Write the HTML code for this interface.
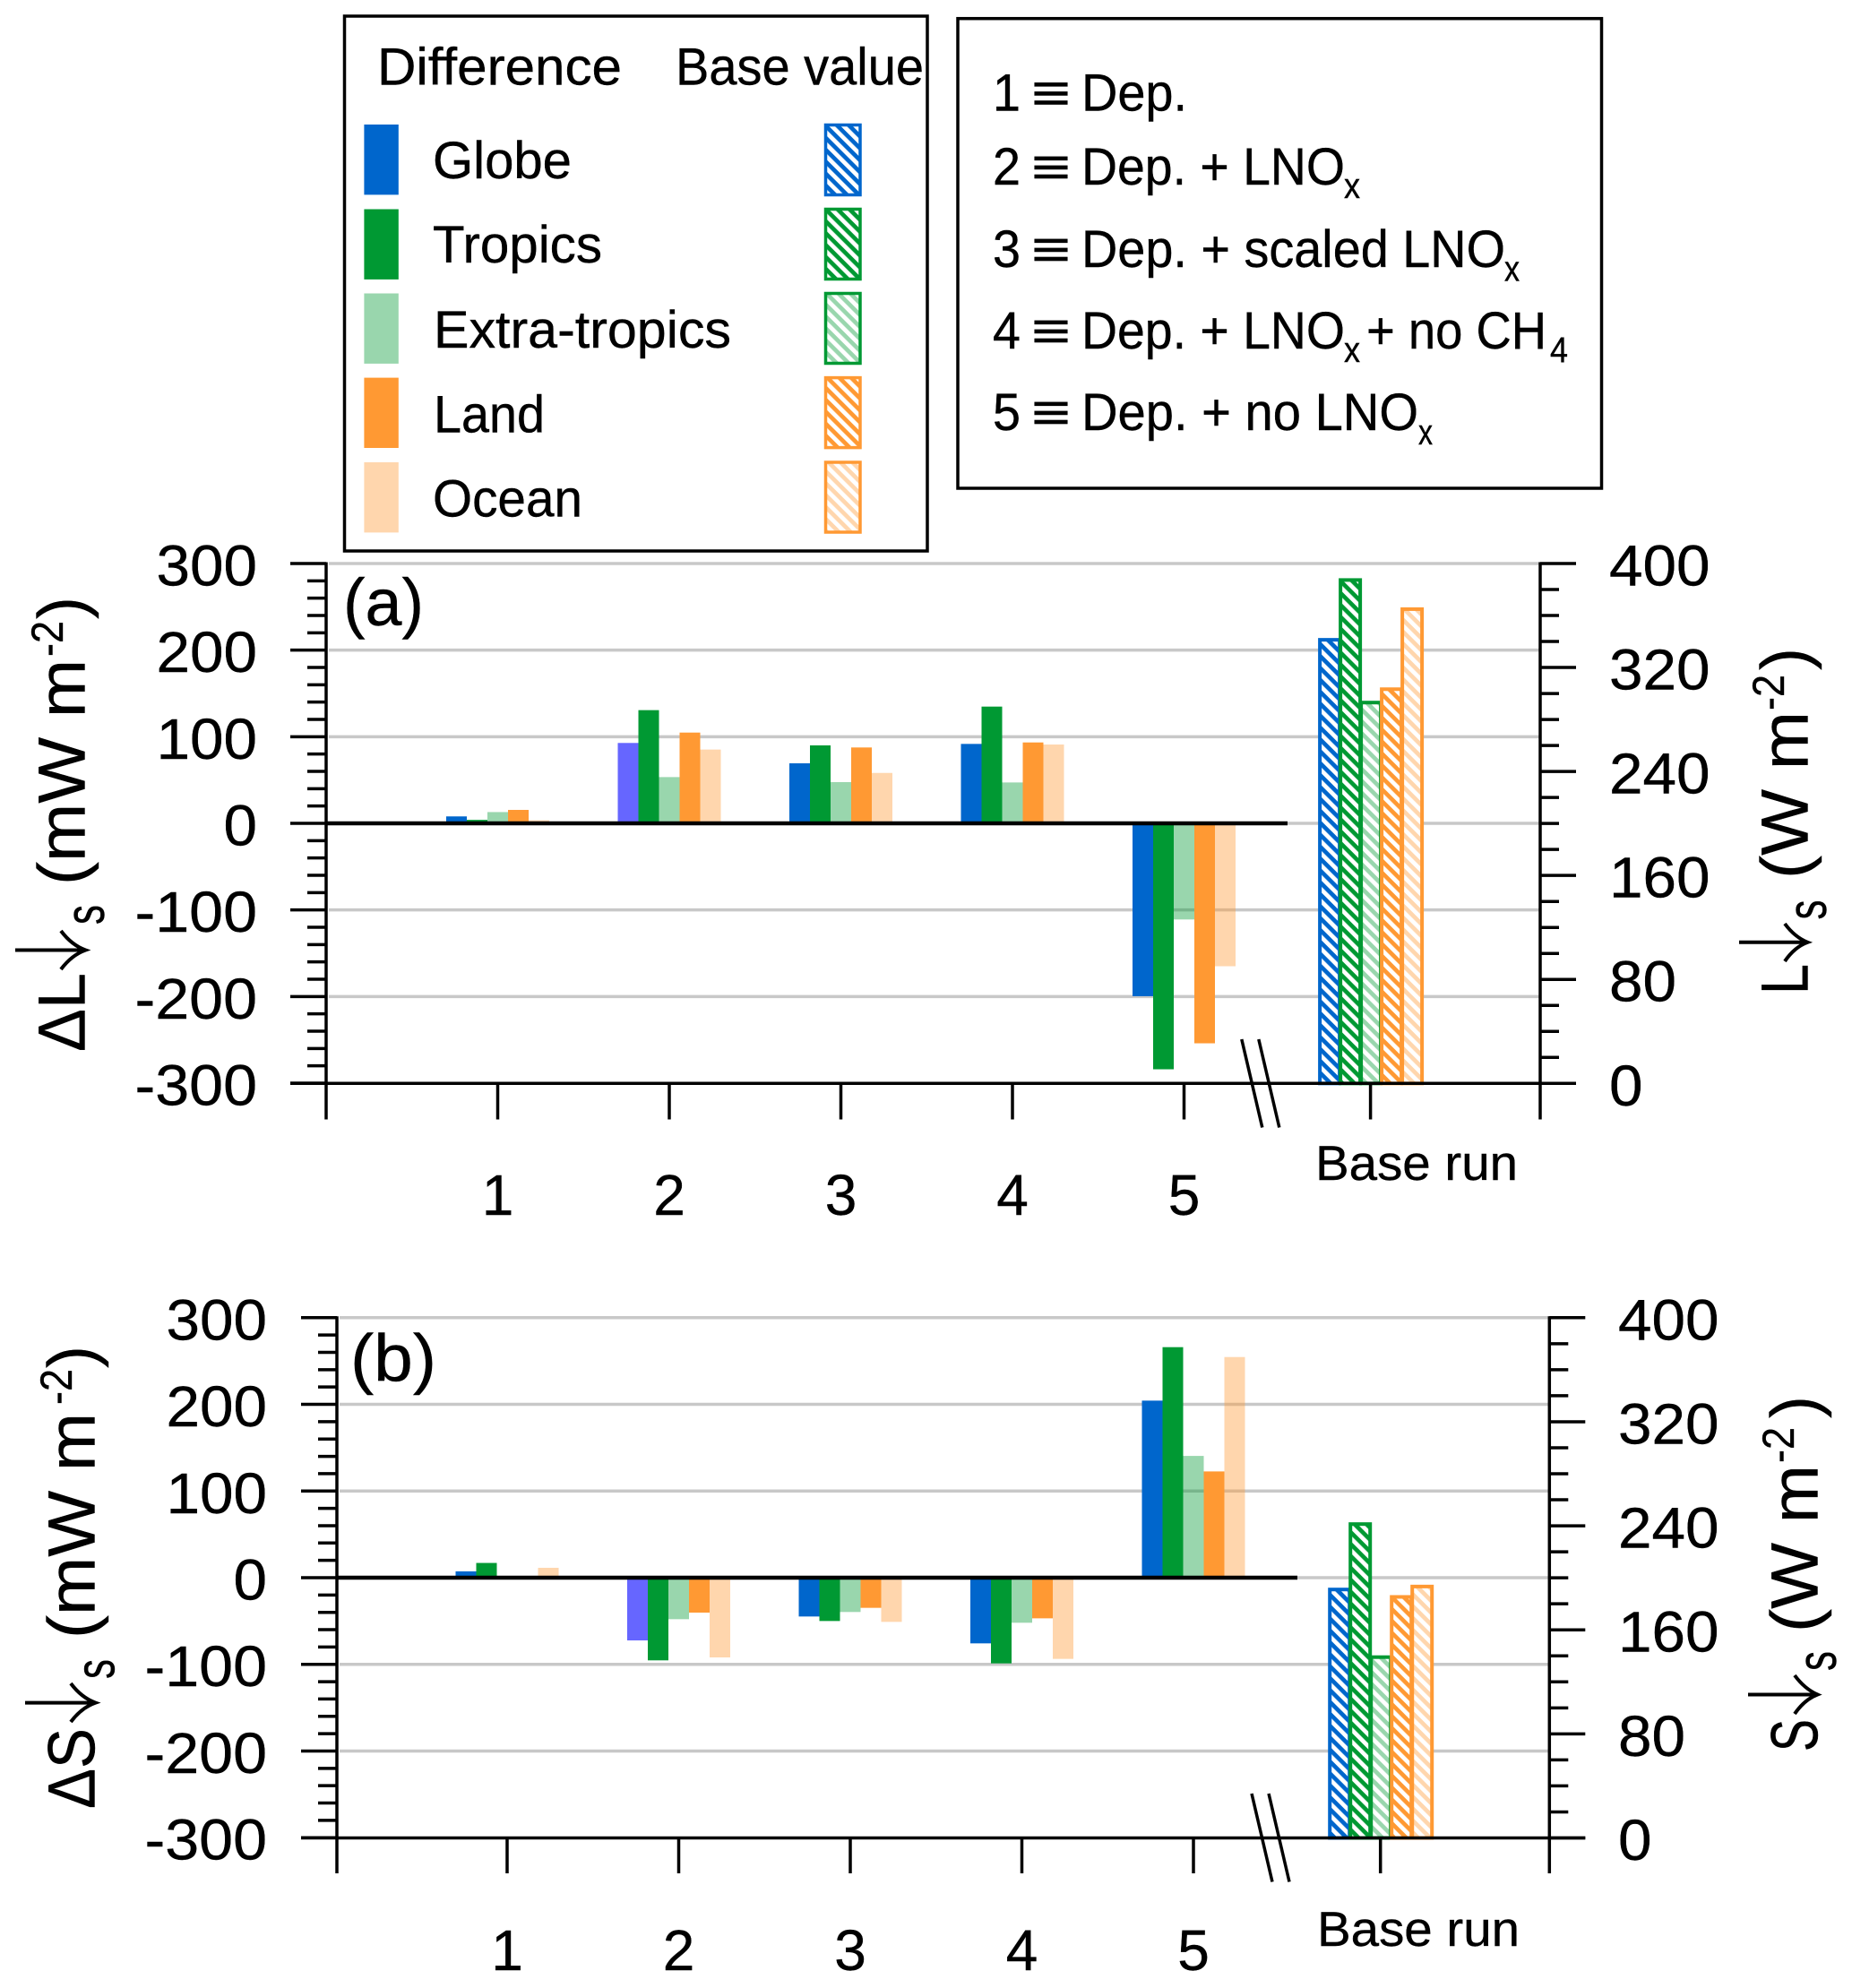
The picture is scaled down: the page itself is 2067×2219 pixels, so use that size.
<!DOCTYPE html>
<html lang="en">
<head>
<meta charset="utf-8">
<title>Surface radiative flux differences</title>
<style>
html,body{margin:0;padding:0;background:#fff;}
svg{display:block;}
text{font-family:"Liberation Sans",sans-serif;fill:#000;stroke:#000;stroke-width:0.4;}
</style>
</head>
<body>
<svg id="chart" xmlns="http://www.w3.org/2000/svg" width="2067" height="2219" viewBox="0 0 2067 2219">
<defs>
<pattern id="hatch-globe" patternUnits="userSpaceOnUse" width="9.4" height="10" patternTransform="rotate(-45)"><rect width="9.4" height="10" fill="#0066cc"/><rect width="4.7" height="10" fill="#fff"/></pattern>
<pattern id="hatch-tropics" patternUnits="userSpaceOnUse" width="9.4" height="10" patternTransform="rotate(-45)"><rect width="9.4" height="10" fill="#009933"/><rect width="4.7" height="10" fill="#fff"/></pattern>
<pattern id="hatch-extra" patternUnits="userSpaceOnUse" width="9.4" height="10" patternTransform="rotate(-45)"><rect width="9.4" height="10" fill="#99d6ad"/><rect width="4.7" height="10" fill="#fff"/></pattern>
<pattern id="hatch-land" patternUnits="userSpaceOnUse" width="9.4" height="10" patternTransform="rotate(-45)"><rect width="9.4" height="10" fill="#ff9933"/><rect width="4.7" height="10" fill="#fff"/></pattern>
<pattern id="hatch-ocean" patternUnits="userSpaceOnUse" width="9.4" height="10" patternTransform="rotate(-45)"><rect width="9.4" height="10" fill="#ffd6ad"/><rect width="4.7" height="10" fill="#fff"/></pattern>
</defs>
<rect width="2067" height="2219" fill="#fff"/>

<g id="legend">
<rect x="384.5" y="18" width="650.5" height="597" fill="#fff" stroke="#000" stroke-width="3.5"/>
<text x="421" y="94.7" font-size="58" textLength="273" lengthAdjust="spacingAndGlyphs">Difference</text>
<text x="754" y="94.7" font-size="58" textLength="277" lengthAdjust="spacingAndGlyphs">Base value</text>

<rect x="406.4" y="139" width="38.4" height="78.4" fill="#0066cc"/>
<rect x="406.4" y="233.5" width="38.4" height="78.4" fill="#009933"/>
<rect x="406.4" y="327.5" width="38.4" height="78.4" fill="#99d6ad"/>
<rect x="406.4" y="421.6" width="38.4" height="78.4" fill="#ff9933"/>
<rect x="406.4" y="516" width="38.4" height="78.4" fill="#ffd6ad"/>

<text x="483" y="199" font-size="58" textLength="155" lengthAdjust="spacingAndGlyphs">Globe</text>
<text x="483" y="293" font-size="58" textLength="189" lengthAdjust="spacingAndGlyphs">Tropics</text>
<text x="484" y="387.8" font-size="58" textLength="332" lengthAdjust="spacingAndGlyphs">Extra-tropics</text>
<text x="484" y="482.4" font-size="58" textLength="124" lengthAdjust="spacingAndGlyphs">Land</text>
<text x="483" y="576.7" font-size="58" textLength="167" lengthAdjust="spacingAndGlyphs">Ocean</text>

<rect x="921.5" y="139.5" width="38.5" height="78" fill="url(#hatch-globe)" stroke="#0066cc" stroke-width="3.5"/>
<rect x="921.5" y="233.5" width="38.5" height="78" fill="url(#hatch-tropics)" stroke="#009933" stroke-width="3.5"/>
<rect x="921.5" y="327.5" width="38.5" height="78" fill="url(#hatch-extra)" stroke="#009933" stroke-width="3.5"/>
<rect x="921.5" y="421.6" width="38.5" height="78" fill="url(#hatch-land)" stroke="#ff9933" stroke-width="3.5"/>
<rect x="921.5" y="516" width="38.5" height="78" fill="url(#hatch-ocean)" stroke="#ff9933" stroke-width="3.5"/>
</g>

<g id="key">
<rect x="1069" y="20.7" width="718.5" height="524.3" fill="#fff" stroke="#000" stroke-width="3.5"/>

<g>
<text x="1108" y="123.6" font-size="58" textLength="31" lengthAdjust="spacingAndGlyphs">1</text>
<text x="1151" y="123.6" font-size="58" textLength="44" lengthAdjust="spacingAndGlyphs">≡</text>
<text x="1207" y="123.6" font-size="58" textLength="118" lengthAdjust="spacingAndGlyphs">Dep.</text>
</g>
<g>
<text x="1108" y="206" font-size="58" textLength="31" lengthAdjust="spacingAndGlyphs">2</text>
<text x="1151" y="206" font-size="58" textLength="44" lengthAdjust="spacingAndGlyphs">≡</text>
<text x="1207" y="206" font-size="58" textLength="294" lengthAdjust="spacingAndGlyphs">Dep. + LNO</text>
<text x="1500" y="221" font-size="40" textLength="18" lengthAdjust="spacingAndGlyphs">x</text>
</g>
<g>
<text x="1108" y="298" font-size="58" textLength="31" lengthAdjust="spacingAndGlyphs">3</text>
<text x="1151" y="298" font-size="58" textLength="44" lengthAdjust="spacingAndGlyphs">≡</text>
<text x="1207" y="298" font-size="58" textLength="473" lengthAdjust="spacingAndGlyphs">Dep. + scaled LNO</text>
<text x="1679" y="313.6" font-size="40" textLength="17" lengthAdjust="spacingAndGlyphs">x</text>
</g>
<g>
<text x="1108" y="389" font-size="58" textLength="31" lengthAdjust="spacingAndGlyphs">4</text>
<text x="1151" y="389" font-size="58" textLength="44" lengthAdjust="spacingAndGlyphs">≡</text>
<text x="1207" y="389" font-size="58" textLength="294" lengthAdjust="spacingAndGlyphs">Dep. + LNO</text>
<text x="1500" y="404" font-size="40" textLength="18" lengthAdjust="spacingAndGlyphs">x</text>
<text x="1525" y="389" font-size="58" textLength="201" lengthAdjust="spacingAndGlyphs">+ no CH</text>
<text x="1730" y="404" font-size="40" textLength="20" lengthAdjust="spacingAndGlyphs">4</text>
</g>
<g>
<text x="1108" y="480" font-size="58" textLength="31" lengthAdjust="spacingAndGlyphs">5</text>
<text x="1151" y="480" font-size="58" textLength="44" lengthAdjust="spacingAndGlyphs">≡</text>
<text x="1207" y="480" font-size="58" textLength="376" lengthAdjust="spacingAndGlyphs">Dep. + no LNO</text>
<text x="1583" y="496" font-size="40" textLength="16" lengthAdjust="spacingAndGlyphs">x</text>
</g>
</g>

<g id="panel-a"></g>
<g id="panel-b"></g>

<g>
<text transform="translate(94.5,1174) rotate(-90)" font-size="74" textLength="88" lengthAdjust="spacingAndGlyphs">ΔL</text>
<path d="M17 1060.5H95M68 1039Q80 1055 95.5 1060.5Q80 1066 68 1082" fill="none" stroke="#000" stroke-width="4"/>
<text transform="translate(116,1032) rotate(-90)" font-size="62" textLength="22" lengthAdjust="spacingAndGlyphs">s</text>
<text transform="translate(94.5,988) rotate(-90)" font-size="74" textLength="252" lengthAdjust="spacingAndGlyphs">(mW m</text>
<text transform="translate(70,733) rotate(-90)" font-size="50" textLength="40" lengthAdjust="spacingAndGlyphs">-2</text>
<text transform="translate(94.5,691) rotate(-90)" font-size="74" textLength="25" lengthAdjust="spacingAndGlyphs">)</text>
</g>
<g>
<text transform="translate(2017.5,1110) rotate(-90)" font-size="74" textLength="34" lengthAdjust="spacingAndGlyphs">L</text>
<path d="M1941 1051.8H2017M1992 1031Q2003 1046 2017.5 1051.8Q2003 1057 1992 1073" fill="none" stroke="#000" stroke-width="4"/>
<text transform="translate(2038,1026.5) rotate(-90)" font-size="62" textLength="22" lengthAdjust="spacingAndGlyphs">s</text>
<text transform="translate(2017.5,981) rotate(-90)" font-size="74" textLength="187" lengthAdjust="spacingAndGlyphs">(W m</text>
<text transform="translate(1991,793) rotate(-90)" font-size="50" textLength="40" lengthAdjust="spacingAndGlyphs">-2</text>
<text transform="translate(2017.5,748) rotate(-90)" font-size="74" textLength="25" lengthAdjust="spacingAndGlyphs">)</text>
</g>
<g>
<text transform="translate(105.7,2019) rotate(-90)" font-size="74" textLength="90" lengthAdjust="spacingAndGlyphs">ΔS</text>
<path d="M28 1900.6H106M79 1879Q91 1895 106.6 1900.6Q91 1906 79 1922" fill="none" stroke="#000" stroke-width="4"/>
<text transform="translate(127.5,1874) rotate(-90)" font-size="62" textLength="22" lengthAdjust="spacingAndGlyphs">s</text>
<text transform="translate(105.7,1829) rotate(-90)" font-size="74" textLength="252" lengthAdjust="spacingAndGlyphs">(mW m</text>
<text transform="translate(80,1568) rotate(-90)" font-size="50" textLength="40" lengthAdjust="spacingAndGlyphs">-2</text>
<text transform="translate(105.7,1527) rotate(-90)" font-size="74" textLength="25" lengthAdjust="spacingAndGlyphs">)</text>
</g>
<g>
<text transform="translate(2028.5,1955) rotate(-90)" font-size="74" textLength="36" lengthAdjust="spacingAndGlyphs">S</text>
<path d="M1951 1891.5H2028M2003 1870Q2014 1885 2028.5 1891.5Q2014 1897 2003 1913" fill="none" stroke="#000" stroke-width="4"/>
<text transform="translate(2049,1865) rotate(-90)" font-size="62" textLength="22" lengthAdjust="spacingAndGlyphs">s</text>
<text transform="translate(2028.5,1822) rotate(-90)" font-size="74" textLength="187" lengthAdjust="spacingAndGlyphs">(W m</text>
<text transform="translate(2002,1633) rotate(-90)" font-size="50" textLength="40" lengthAdjust="spacingAndGlyphs">-2</text>
<text transform="translate(2028.5,1583) rotate(-90)" font-size="74" textLength="25" lengthAdjust="spacingAndGlyphs">)</text>
</g>
</svg>

<script>
const categories = ['1', '2', '3', '4', '5'];
const seriesNames = ['globe', 'tropics', 'extra-tropics', 'land', 'ocean'];
const leftTickLabels = [-300, -200, -100, 0, 100, 200, 300];
const rightTickLabels = [0, 80, 160, 240, 320, 400];

const longwaveGlobe = [8, 92.8, 69.3, 91.7, -199.6];
const longwaveTropics = [4, 130.7, 90, 134.8, -284];
const longwaveExtra = [13, 53.4, 47.6, 47.2, -111];
const longwaveLand = [15.5, 104.8, 87.6, 93.4, -254];
const longwaveOcean = [3.5, 85.2, 58.2, 91, -165];
const longwaveBase = [342, 388, 293.7, 304, 365.6];

const shortwaveGlobe = [7.3, -72.4, -44.8, -75.8, 204.3];
const shortwaveTropics = [17, -95.4, -50, -98.9, 266];
const shortwaveExtra = [0, -47.9, -39.6, -52, 140.5];
const shortwaveLand = [0, -40.3, -34.8, -46.9, 122.6];
const shortwaveOcean = [11.4, -92, -51, -93.7, 254.6];
const shortwaveBase = [191.7, 242, 139.7, 186, 194];

const SVG_NS = 'http://www.w3.org/2000/svg';
const solidColors = ['#0066cc', '#009933', '#009933', '#ff9933', '#ff9933'];
const solidOpacity = [1, 1, 0.4, 1, 0.4];
const hatchIds = ['hatch-globe', 'hatch-tropics', 'hatch-extra', 'hatch-land', 'hatch-ocean'];
const hatchStroke = ['#0066cc', '#009933', '#009933', '#ff9933', '#ff9933'];

function make(parent, tag, attrs, txt) {
  const el = document.createElementNS(SVG_NS, tag);
  for (const k in attrs) el.setAttribute(k, attrs[k]);
  if (txt !== undefined) el.textContent = txt;
  parent.appendChild(el);
  return el;
}

function labelWidth(label) {
  const s = String(label);
  return s.replace('-', '').length * 37.5 + (s[0] === '-' ? 24 : 0);
}

function drawPanel(p) {
  const root = document.getElementById(p.id);
  const yLeft = v => p.yZero - v * (p.yZero - p.yTop) / 300;
  const yRight = v => p.yBottom - v * (p.yBottom - p.yTop) / 400;
  const xCategory = i => p.xFirst + i * p.xStep;

  leftTickLabels.forEach(v => {
    if (v === -300) return;
    const grid = make(root, 'line', {x1: p.xLeft + 3, x2: p.xRight, y1: yLeft(v), y2: yLeft(v), stroke: '#c8c8c8', 'stroke-width': 3.5});
    
    
  });

  p.diffs.forEach((series, s) => {
    series.forEach((v, i) => {
      const x = xCategory(i) + (s - 2.5) * 23;
      const fill = (s === 0 && i === 1) ? '#6666ff' : solidColors[s];
      const bar = make(root, 'rect', {x: x, width: 23, y: Math.min(yLeft(v), p.yZero), height: Math.abs(yLeft(v) - p.yZero), fill: fill, 'fill-opacity': solidOpacity[s]});
      
      
    });
  });

  p.base.forEach((v, s) => {
    const x = p.xBase + 0.5 + (s - 2.5) * 23 + 0.5;
    const bar = make(root, 'rect', {x: x, width: 22, y: yRight(v) + 1, height: p.yBottom - yRight(v) - 1, fill: 'url(#' + hatchIds[s] + ')', stroke: hatchStroke[s], 'stroke-width': 4});
    
    
  });

  const zero = make(root, 'line', {x1: p.xLeft, x2: p.xZeroEnd, y1: p.yZero, y2: p.yZero, stroke: '#000', 'stroke-width': 4.5});
  
  

  const xAxis = make(root, 'line', {x1: p.xLeft - 40, x2: p.xRight + 40, y1: p.yBottom, y2: p.yBottom, stroke: '#000', 'stroke-width': 3.5});
  
  

  const leftAxis = make(root, 'line', {x1: p.xLeft, x2: p.xLeft, y1: p.yTop - 1.5, y2: p.yTickEnd, stroke: '#000', 'stroke-width': 3.5});
  
  

  const rightAxis = make(root, 'line', {x1: p.xRight, x2: p.xRight, y1: p.yTop - 1.5, y2: p.yTickEnd, stroke: '#000', 'stroke-width': 3.5});
  
  

  for (let v = -300; v <= 300; v += 20) {
    const major = v % 100 === 0;
    const tick = make(root, 'line', {x1: p.xLeft - (major ? 40 : 21), x2: p.xLeft, y1: yLeft(v), y2: yLeft(v), stroke: '#000', 'stroke-width': 3.5});
    
    
  }
  for (let v = 0; v <= 400; v += 20) {
    const major = v % 80 === 0;
    const tick = make(root, 'line', {x1: p.xRight, x2: p.xRight + (major ? 40 : 21), y1: yRight(v), y2: yRight(v), stroke: '#000', 'stroke-width': 3.5});
    
    
  }

  leftTickLabels.forEach(v => {
    const w = labelWidth(v);
    const t = make(root, 'text', {x: p.leftLabelEnd - w, y: yLeft(v) + 24.5, 'font-size': 64, textLength: w, lengthAdjust: 'spacingAndGlyphs'}, v);
    
    
  });
  rightTickLabels.forEach(v => {
    const w = labelWidth(v);
    const t = make(root, 'text', {x: p.rightLabelStart, y: yRight(v) + 24.5, 'font-size': 64, textLength: w, lengthAdjust: 'spacingAndGlyphs'}, v);
    
    
  });

  categories.forEach((c, i) => {
    const tick = make(root, 'line', {x1: xCategory(i), x2: xCategory(i), y1: p.yBottom, y2: p.yTickEnd, stroke: '#000', 'stroke-width': 3.5});
    
    
    const t = make(root, 'text', {x: xCategory(i), y: p.catBaseline, 'font-size': 64, 'text-anchor': 'middle'}, c);
    
    
  });

  const baseTick = make(root, 'line', {x1: p.xBase, x2: p.xBase, y1: p.yBottom, y2: p.yTickEnd, stroke: '#000', 'stroke-width': 3.5});
  
  
  const baseLabel = make(root, 'text', {x: p.baseLabelX, y: p.baseLabelY, 'font-size': 55, textLength: 226, lengthAdjust: 'spacingAndGlyphs'}, 'Base run');
  
  

  [0, 1].forEach(k => {
    const dx = k * 19;
    const slash = make(root, 'line', {x1: p.breakX + dx, y1: p.breakY, x2: p.breakX + dx + 23, y2: p.breakY + 98.5, stroke: '#000', 'stroke-width': 3.5});
    
    
  });

  const tag = make(root, 'text', {x: p.tagX, y: p.tagY, 'font-size': 74, textLength: p.tagWidth, lengthAdjust: 'spacingAndGlyphs'}, p.tag);
  
  
}

drawPanel({
  id: 'panel-a', tag: '(a)', tagWidth: 90,
  diffs: [longwaveGlobe, longwaveTropics, longwaveExtra, longwaveLand, longwaveOcean],
  base: longwaveBase,
  yTop: 629, yZero: 919, yBottom: 1209.3, yTickEnd: 1249.5,
  xLeft: 364, xRight: 1719, xFirst: 555.5, xStep: 191.5, xBase: 1529.6, xZeroEnd: 1437,
  leftLabelEnd: 287, rightLabelStart: 1796, catBaseline: 1356,
  baseLabelX: 1468, baseLabelY: 1317, breakX: 1385.8, breakY: 1160,
  tagX: 383, tagY: 698
});
drawPanel({
  id: 'panel-b', tag: '(b)', tagWidth: 96,
  diffs: [shortwaveGlobe, shortwaveTropics, shortwaveExtra, shortwaveLand, shortwaveOcean],
  base: shortwaveBase,
  yTop: 1470.8, yZero: 1761, yBottom: 2051.5, yTickEnd: 2091,
  xLeft: 376, xRight: 1729.3, xFirst: 566, xStep: 191.5, xBase: 1540.7, xZeroEnd: 1448,
  leftLabelEnd: 298, rightLabelStart: 1806, catBaseline: 2199,
  baseLabelX: 1470, baseLabelY: 2172, breakX: 1397, breakY: 2002,
  tagX: 391, tagY: 1541.7
});
</script>
</body>
</html>
